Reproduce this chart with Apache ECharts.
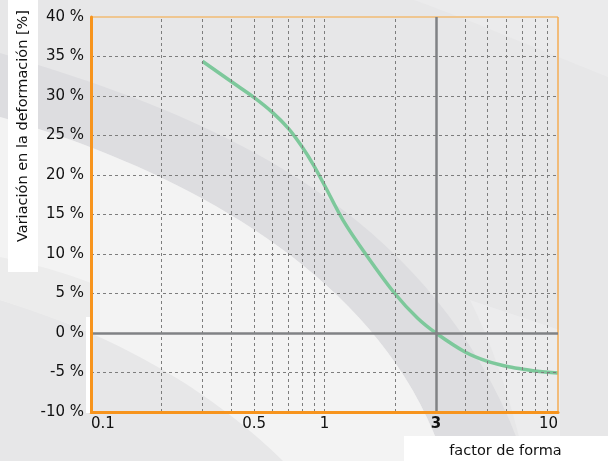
<!DOCTYPE html>
<html><head><meta charset="utf-8">
<script src="https://cdn.jsdelivr.net/npm/echarts@6/dist/echarts.min.js"></script>
<style>html,body{margin:0;padding:0;background:#e7e7e8}#c{width:608px;height:461px}</style>
</head><body><div id="c"></div>
<script>
// ---- data ----
const factorForma = [0.3, 0.4, 0.5, 0.6, 0.7, 0.8, 0.9, 1.0, 1.2, 1.5, 2.0, 2.5, 3.0, 4.0, 5.0, 6.0, 7.0, 8.0, 10];
const variacion   = [34.4, 31.8, 29.8, 27.9, 25.9, 23.6, 21.2, 18.7, 14.3, 10.0, 5.0, 1.9, 0, -2.4, -3.6, -4.2, -4.55, -4.8, -5.05];
const xTickLabels = [0.1, 0.5, 1, 3, 10];
const xGridValues = [0.2, 0.3, 0.4, 0.5, 0.6, 0.7, 0.8, 0.9, 1, 2, 4, 5, 6, 7, 8, 9];
const yMin = -10, yMax = 40, yStep = 5;
const refX = 3, refY = 0;
const yName = 'Variación en la deformación [%]';
const xName = 'factor de forma';

const FONT = '"DejaVu Sans", Verdana, sans-serif';
const chart = echarts.init(document.getElementById('c'), null, {renderer: 'canvas'});

// decorative background: sample cubic bezier segments into polygon points
function bez(p0, p1, p2, p3, n) {
  const out = [];
  for (let i = 0; i <= n; i++) {
    const t = i / n, u = 1 - t;
    out.push([
      u*u*u*p0[0] + 3*u*u*t*p1[0] + 3*u*t*t*p2[0] + t*t*t*p3[0],
      u*u*u*p0[1] + 3*u*u*t*p1[1] + 3*u*t*t*p2[1] + t*t*t*p3[1]
    ]);
  }
  return out;
}
const bandPts = bez([0,53],[150,100],[430,180],[525,461],40).concat(bez([444,461],[380,260],[150,160],[0,117],40));
const lightPts = bez([0,117],[150,160],[380,260],[444,461],40).concat(bez([283,461],[200,380],[100,330],[0,300],40));
const fuzzPts = bez([470,300],[500,360],[515,420],[525,461],20).concat([[560,461],[560,330]]);
const wedgePts = [[414,0],[608,0],[608,77]].concat(bez([608,77],[540,50],[470,20],[414,0],20));
const stripePts = bez([0,257],[40,265],[70,275],[91,283],10).concat([[91,333]]).concat(bez([91,333],[60,320],[30,310],[0,300],10));

const nLines = (yMax - yMin) / yStep + 1;
const splitColors = [];
for (let i = 0; i < nLines; i++) {
  const v = yMin + i * yStep;
  splitColors.push(v === yMax || v === refY ? 'rgba(0,0,0,0)' : '#7d7d7d');
}

chart.setOption({
  backgroundColor: '#e7e7e8',
  animation: false,
  grid: {left: 91, right: 50, top: 17, bottom: 49, containLabel: false},
  graphic: [
    {type: 'polygon', z: -10, silent: true, shape: {points: wedgePts}, style: {fill: '#ebebec'}},
    {type: 'polygon', z: -10, silent: true, shape: {points: fuzzPts}, style: {fill: '#ececed'}},
    {type: 'polygon', z: -10, silent: true, shape: {points: bandPts}, style: {fill: '#dddde0'}},
    {type: 'polygon', z: -10, silent: true, shape: {points: lightPts}, style: {fill: '#f3f3f3'}},
    {type: 'polygon', z: -10, silent: true, shape: {points: stripePts}, style: {fill: '#ececec'}},
    {type: 'rect', z: 10, silent: true, shape: {x: 86, y: 317, width: 4, height: 96}, style: {fill: '#ffffff'}},
    {type: 'rect', z: 10, silent: true, shape: {x: 8, y: 0, width: 30, height: 272}, style: {fill: '#ffffff'}},
    {type: 'text', z: 11, silent: true, x: 23, y: 126, rotation: Math.PI / 2,
      style: {text: yName, fontSize: 14.5, fontFamily: FONT, fill: '#111',
        align: 'center', verticalAlign: 'middle', textAlign: 'center', textVerticalAlign: 'middle'}},
    {type: 'rect', z: 10, silent: true, shape: {x: 404, y: 436, width: 204, height: 25}, style: {fill: '#ffffff'}},
    {type: 'text', z: 11, silent: true, x: 505.5, y: 451.5,
      style: {text: xName, fontSize: 14.5, fontFamily: FONT, fill: '#111',
        align: 'center', verticalAlign: 'middle', textAlign: 'center', textVerticalAlign: 'middle'}}
  ],
  xAxis: {
    type: 'log', logBase: 10, min: 0.1, max: 10, z: 5,
    axisLine: {show: true, onZero: false, lineStyle: {color: '#f7941d', width: 3}},
    axisTick: {show: false},
    splitLine: {show: false},
    axisLabel: {
      customValues: xTickLabels,
      margin: 5,
      color: '#111', fontSize: 15, fontFamily: FONT,
      alignMinLabel: 'left', alignMaxLabel: 'right',
      formatter: function (v) { return v === refX ? '{b|' + v + '}' : String(v); },
      rich: {b: {fontWeight: 'bold', fontSize: 15, fontFamily: FONT, color: '#111'}}
    }
  },
  yAxis: {
    type: 'value', min: yMin, max: yMax, interval: yStep, z: 5,
    axisLine: {show: true, onZero: false, lineStyle: {color: '#f7941d', width: 3}},
    axisTick: {show: false},
    splitLine: {show: true, lineStyle: {color: splitColors, type: [3, 3], width: 1}},
    axisLabel: {formatter: '{value} %', margin: 7, color: '#111', fontSize: 15, fontFamily: FONT}
  },
  series: [
    {
      type: 'line', name: 'grid', data: [], z: 1, silent: true,
      markLine: {
        symbol: 'none', silent: true, animation: false,
        label: {show: false},
        lineStyle: {color: '#7d7d7d', type: [3, 3], width: 1},
        data: xGridValues.map(v => ({xAxis: v}))
      }
    },
    {
      type: 'line', name: 'frame', data: [], z: 1.5, silent: true,
      markLine: {
        symbol: 'none', silent: true, animation: false,
        label: {show: false},
        data: [
          {yAxis: yMax, lineStyle: {color: '#efc690', type: 'solid', width: 2}},
          {xAxis: 10, lineStyle: {color: '#f5ad55', type: 'solid', width: 1.5}},
          {xAxis: refX, lineStyle: {color: '#808285', type: 'solid', width: 2.5}},
          {yAxis: refY, lineStyle: {color: '#808285', type: 'solid', width: 2.5}}
        ]
      }
    },
    {
      type: 'line', name: 'Variación', z: 3,
      data: factorForma.map((x, i) => [x, variacion[i]]),
      smooth: 0.35, showSymbol: false, symbol: 'none',
      lineStyle: {color: '#7dc89b', width: 3.5}
    }
  ]
});
</script>
</body></html>
